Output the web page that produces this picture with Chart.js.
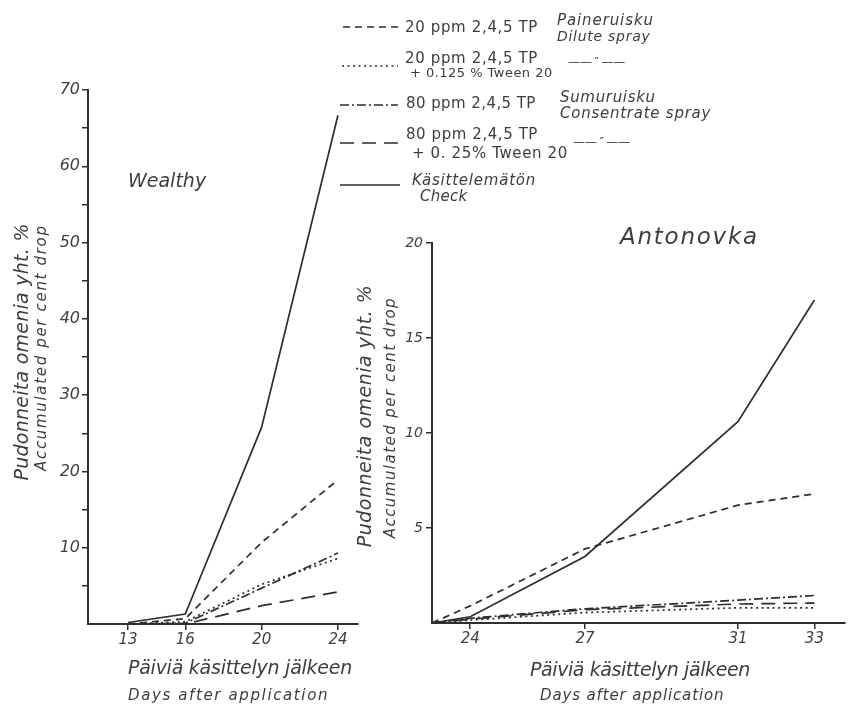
<!DOCTYPE html>
<html><head><meta charset="utf-8">
<script src="https://cdn.jsdelivr.net/npm/chart.js@4.4.0/dist/chart.umd.min.js"></script>
<style>
html,body{margin:0;padding:0;background:#fff;}
body{width:852px;height:705px;position:relative;overflow:hidden;font-family:"DejaVu Sans",sans-serif;color:#3d3d3d;}
canvas{position:absolute;top:0;}
.t{position:absolute;white-space:nowrap;line-height:1.15;}
.i{font-style:italic;}
</style></head><body>
<canvas id="cw" width="365" height="705" style="left:0;width:365px;height:705px"></canvas>
<canvas id="ca" width="487" height="705" style="left:365px;width:487px;height:705px"></canvas>
<svg id="lg" width="852" height="210" style="position:absolute;left:0;top:0"></svg>

<div class="t i" data-x1="128" data-x2="206" data-y="181" style="font-size:19px">Wealthy</div>
<div class="t i" data-x1="620" data-x2="757" data-y="236" style="font-size:23px">Antonovka</div>

<div class="t i" data-rot="1" data-x1="223" data-x2="480" data-y="21" style="font-size:19px">Pudonneita omenia yht. %</div>
<div class="t i" data-rot="1" data-x1="225" data-x2="470" data-y="41" style="font-size:15px">Accumulated per cent drop</div>
<div class="t i" data-rot="1" data-x1="285" data-x2="547" data-y="365" style="font-size:19px">Pudonneita omenia yht. %</div>
<div class="t i" data-rot="1" data-x1="297" data-x2="537" data-y="390" style="font-size:15px">Accumulated per cent drop</div>

<div class="t i" data-x1="128" data-x2="352" data-y="668" style="font-size:19px">Päiviä käsittelyn jälkeen</div>
<div class="t i" data-x1="128" data-x2="327" data-y="695" style="font-size:15px">Days after application</div>
<div class="t i" data-x1="530" data-x2="750" data-y="670" style="font-size:19px">Päiviä käsittelyn jälkeen</div>
<div class="t i" data-x1="540" data-x2="723" data-y="695" style="font-size:15px">Days after application</div>

<div class="t" data-x1="405" data-x2="537" data-y="27" style="font-size:15px">20 ppm 2,4,5 TP</div>
<div class="t i" data-x1="557" data-x2="653" data-y="20" style="font-size:15px">Paineruisku</div>
<div class="t i" data-x1="557" data-x2="650" data-y="36" style="font-size:14px">Dilute spray</div>

<div class="t" data-x1="405" data-x2="537" data-y="58" style="font-size:15px">20 ppm 2,4,5 TP</div>
<div class="t" data-x1="410" data-x2="552" data-y="73" style="font-size:13px">+ 0.125 % Tween 20</div>
<div class="t" data-x1="568" data-x2="625" data-y="63" style="font-size:12px">——&#8239;″&#8239;——</div>

<div class="t" data-x1="406" data-x2="535" data-y="103" style="font-size:15px">80 ppm 2,4,5 TP</div>
<div class="t i" data-x1="560" data-x2="655" data-y="97" style="font-size:15px">Sumuruisku</div>
<div class="t i" data-x1="560" data-x2="710" data-y="113" style="font-size:15px">Consentrate spray</div>

<div class="t" data-x1="406" data-x2="537" data-y="134" style="font-size:15px">80 ppm 2,4,5 TP</div>
<div class="t" data-x1="412" data-x2="567" data-y="153" style="font-size:15px">+ 0. 25% Tween 20</div>
<div class="t" data-x1="573" data-x2="643" data-y="143" style="font-size:12px">——&#8239;″&#8239;——</div>

<div class="t i" data-x1="412" data-x2="535" data-y="180" style="font-size:15px">Käsittelemätön</div>
<div class="t i" data-x1="420" data-x2="467" data-y="196" style="font-size:15px">Check</div>

<script>
// ---- data ----
const wealthyDays = [13, 16, 20, 24];
const wealthyDilute = [0, 0.7, 10.7, 18.9];
const wealthyDiluteTween = [0, 0.3, 5.2, 8.6];
const wealthyConc = [0, 0.1, 4.7, 9.3];
const wealthyConcTween = [0, 0, 2.4, 4.2];
const wealthyCheck = [0.2, 1.3, 25.8, 66.7];

const antonovkaDays = [23, 24, 27, 31, 33];
const antonovkaDilute = [0, 0.9, 3.9, 6.2, 6.8];
const antonovkaDiluteTween = [0, 0.15, 0.55, 0.8, 0.8];
const antonovkaConc = [0, 0.25, 0.75, 1.2, 1.45];
const antonovkaConcTween = [0, 0.2, 0.7, 1.0, 1.05];
const antonovkaCheck = [0, 0.33, 3.5, 10.6, 17.0];

const wealthyXTicks = [13, 16, 20, 24];
const antonovkaXTicks = [24, 27, 31, 33];
const wealthyYLabels = [10, 20, 30, 40, 50, 60, 70];
const antonovkaYLabels = [5, 10, 15, 20];

// ---- styles ----
const INK = '#2e2e2e';
const TXT = '#404040';
const DASH = {
  dilute: [7, 5],
  diluteTween: [2, 3.5],
  conc: [9, 3, 2, 3],
  concTween: [14, 8],
  check: []
};

// ---- layout text fitting ----
document.querySelectorAll('.t').forEach(el => {
  const x1 = +el.dataset.x1, x2 = +el.dataset.x2, y = +el.dataset.y;
  const n = el.textContent.length;
  const w0 = el.offsetWidth;
  const ls = (x2 - x1 - w0) / Math.max(1, n - 1);
  el.style.letterSpacing = ls + 'px';
  const w = el.offsetWidth - ls, h = el.offsetHeight;
  if (el.dataset.rot) {
    const cx = y, cy = (x1 + x2) / 2;
    el.style.left = (cx - w / 2) + 'px';
    el.style.top = (cy - h / 2) + 'px';
    el.style.transform = 'rotate(-90deg)';
  } else {
    el.style.left = x1 + 'px';
    el.style.top = (y - h / 2) + 'px';
  }
});

// legend samples
const svg = document.getElementById('lg');
[[343, 398, 27, DASH.dilute], [342, 398, 66, DASH.diluteTween], [340, 398, 105, DASH.conc],
 [340, 400, 143, DASH.concTween], [340, 400, 185, DASH.check]].forEach(([a, b, y, d]) => {
  const l = document.createElementNS('http://www.w3.org/2000/svg', 'line');
  l.setAttribute('x1', a); l.setAttribute('x2', b); l.setAttribute('y1', y); l.setAttribute('y2', y);
  l.setAttribute('stroke', INK); l.setAttribute('stroke-width', '1.7');
  if (d.length) l.setAttribute('stroke-dasharray', d.join(' '));
  svg.appendChild(l);
});

// ---- charts ----
Chart.defaults.font.family = '"DejaVu Sans", sans-serif';
Chart.defaults.color = TXT;

function pts(days, vals) { return days.map((d, i) => ({ x: d, y: vals[i] })); }
function ds(days, vals, dash) {
  return { data: pts(days, vals), borderColor: INK, borderWidth: 1.7, borderDash: dash,
           pointRadius: 0, tension: 0, fill: false };
}

function makeChart(id, cfg) {
  return new Chart(document.getElementById(id), {
    type: 'line',
    data: { datasets: [
      ds(cfg.days, cfg.dilute, DASH.dilute),
      ds(cfg.days, cfg.diluteTween, DASH.diluteTween),
      ds(cfg.days, cfg.conc, DASH.conc),
      ds(cfg.days, cfg.concTween, DASH.concTween),
      ds(cfg.days, cfg.check, DASH.check)
    ] },
    options: {
      responsive: false, animation: false, devicePixelRatio: 1,
      layout: { padding: { top: cfg.padTop, right: cfg.padRight, left: 0, bottom: 0 } },
      plugins: { legend: { display: false }, tooltip: { enabled: false } },
      scales: {
        x: {
          type: 'linear', min: cfg.xMin, max: cfg.xMax,
          afterBuildTicks: s => { s.ticks = cfg.xTicks.map(v => ({ value: v })); },
          afterFit: s => { s.height = cfg.xAxisH; },
          ticks: { autoSkip: false, maxRotation: 0, padding: 1, font: { size: 15, style: 'italic' },
                   callback: v => String(v) },
          grid: { drawOnChartArea: false, drawTicks: true, tickLength: 6, color: INK, lineWidth: 1.5 },
          border: { display: true, color: INK, width: 2 }
        },
        y: {
          min: 0, max: cfg.yMax,
          afterBuildTicks: s => {
            const t = [];
            for (let v = cfg.yMinor; v <= cfg.yMax + 1e-9; v += cfg.yMinor) t.push({ value: v });
            s.ticks = t;
          },
          afterFit: s => { s.width = cfg.yAxisW; },
          ticks: { autoSkip: false, padding: cfg.yPad, font: { size: cfg.yFont, style: 'italic' },
                   callback: v => cfg.yLabels.includes(v) ? String(v) : '' },
          grid: { drawOnChartArea: false, drawTicks: true, tickLength: 6, color: INK, lineWidth: 1.5 },
          border: { display: true, color: INK, width: 2 }
        }
      }
    }
  });
}

makeChart('cw', {
  days: wealthyDays, dilute: wealthyDilute, diluteTween: wealthyDiluteTween,
  conc: wealthyConc, concTween: wealthyConcTween, check: wealthyCheck,
  xTicks: wealthyXTicks, yLabels: wealthyYLabels,
  xMin: 10.9, xMax: 25.05, yMax: 70, yMinor: 5, yFont: 16, yPad: 2,
  padTop: 90, padRight: 7, xAxisH: 81, yAxisW: 88
});
makeChart('ca', {
  days: antonovkaDays, dilute: antonovkaDilute, diluteTween: antonovkaDiluteTween,
  conc: antonovkaConc, concTween: antonovkaConcTween, check: antonovkaCheck,
  xTicks: antonovkaXTicks, yLabels: antonovkaYLabels,
  xMin: 23, xMax: 33.8, yMax: 20, yMinor: 5, yFont: 14, yPad: 3,
  padTop: 243, padRight: 7, xAxisH: 82, yAxisW: 67
});
</script>
</body></html>
